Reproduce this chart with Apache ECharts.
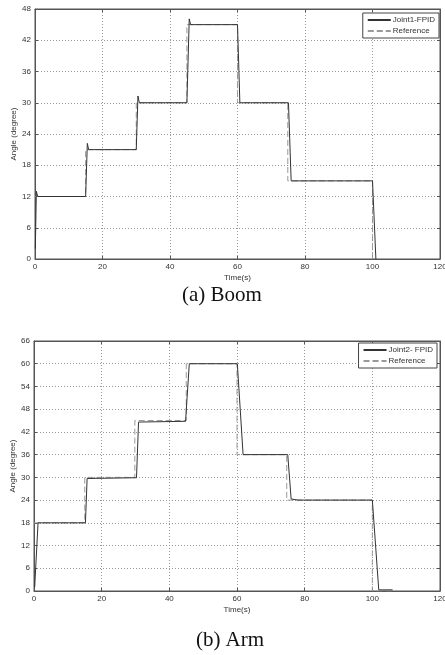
<!DOCTYPE html>
<html>
<head>
<meta charset="utf-8">
<script src="https://cdn.jsdelivr.net/npm/echarts@6/dist/echarts.min.js"></script>
<style>
  html, body { margin: 0; padding: 0; background: #fff; }
  #chart { width: 445px; height: 655px; }
</style>
</head>
<body>
<div id="chart"></div>
<script>
// (a) Boom - 关节1
const boomTime = [0.1, 0.4, 0.8, 15, 15.5, 15.9, 30, 30.5, 30.9, 45, 45.7, 46.1, 60, 60.7, 75.1, 75.9, 100, 101];
const boomAngle = [2, 13, 12, 12, 22.2, 21, 21, 31.3, 30, 30, 46.1, 45, 45, 30, 30, 15, 15, 0];
const boomRefTime = [0, 15, 15, 30, 30, 45, 45, 60, 60, 74.9, 74.9, 100, 100, 101];
const boomRefAngle = [12, 12, 21, 21, 30, 30, 45, 45, 30, 30, 15, 15, 0, 0];

// (b) Arm - 关节2
const armTime = [0.2, 1.2, 15.2, 15.7, 30.3, 30.9, 44.8, 45.9, 60.1, 61.8, 75, 76, 78, 100, 101.9, 106];
const armAngle = [1, 18, 18, 29.7, 29.9, 44.6, 44.8, 60, 60, 36, 36, 24.3, 24, 24, 0.3, 0.3];
const armRefTime = [0, 15, 15, 29.8, 29.8, 45, 45, 60, 60, 74.7, 74.7, 100, 100, 106];
const armRefAngle = [18, 18, 30, 30, 45, 45, 60, 60, 36, 36, 24, 24, 0, 0];

const xTicks = [0, 20, 40, 60, 80, 100, 120];
const boomTicks = [0, 6, 12, 18, 24, 30, 36, 42, 48];
const armTicks = [0, 6, 12, 18, 24, 30, 36, 42, 48, 54, 60, 66];

const pairs = (xs, ys) => xs.map((x, i) => [x, ys[i]]);

const font = 'Liberation Sans, Arial, sans-serif';
const labelStyle = { color: '#333', fontSize: 8, fontFamily: font };

// 主坐标轴（带网格线）
function mainX(gridIndex) {
  return {
    type: 'value', gridIndex: gridIndex,
    min: xTicks[0], max: xTicks[xTicks.length - 1], interval: 20,
    name: 'Time(s)', nameLocation: 'middle', nameGap: 15,
    nameTextStyle: labelStyle,
    axisLine: { onZero: false, lineStyle: { color: '#555' } },
    axisTick: { inside: true, length: 3, lineStyle: { color: '#555' } },
    axisLabel: Object.assign({ margin: 4 }, labelStyle),
    splitLine: { show: true, lineStyle: { type: [1, 2], color: '#999' } },
  };
}
function mainY(gridIndex, ticks) {
  return {
    type: 'value', gridIndex: gridIndex,
    min: ticks[0], max: ticks[ticks.length - 1], interval: 6,
    name: 'Angle (degree)', nameLocation: 'middle', nameGap: 17,
    nameMoveOverlap: false,
    nameTextStyle: labelStyle,
    axisLine: { onZero: false, lineStyle: { color: '#555' } },
    axisTick: { inside: true, length: 3, lineStyle: { color: '#555' } },
    axisLabel: Object.assign({ margin: 4 }, labelStyle),
    splitLine: { show: true, lineStyle: { type: [1, 2], color: '#999' } },
  };
}
// 上/右边框的刻度
function edgeX(gridIndex) {
  return {
    type: 'value', gridIndex: gridIndex, position: 'top',
    min: xTicks[0], max: xTicks[xTicks.length - 1], interval: 20,
    axisLine: { onZero: false, lineStyle: { color: '#555' } },
    axisTick: { inside: true, length: 3, lineStyle: { color: '#555' } },
    axisLabel: { show: false }, splitLine: { show: false },
  };
}
function edgeY(gridIndex, ticks) {
  return {
    type: 'value', gridIndex: gridIndex, position: 'right',
    min: ticks[0], max: ticks[ticks.length - 1], interval: 6,
    axisLine: { onZero: false, lineStyle: { color: '#555' } },
    axisTick: { inside: true, length: 3, lineStyle: { color: '#555' } },
    axisLabel: { show: false }, splitLine: { show: false },
  };
}

function solid(name, data, xi, yi) {
  return {
    name: name, type: 'line', data: data, xAxisIndex: xi, yAxisIndex: yi,
    symbol: 'none', animation: false, z: 3,
    lineStyle: { color: '#333', width: 1 },
    itemStyle: { color: '#333' },
  };
}
function dashed(name, data, xi, yi) {
  return {
    name: name, type: 'line', data: data, xAxisIndex: xi, yAxisIndex: yi,
    symbol: 'none', animation: false, z: 2,
    lineStyle: { color: '#999', width: 1, type: [6, 3] },
    itemStyle: { color: '#999' },
  };
}

function legendAt(top, right, names) {
  return {
    data: names, orient: 'vertical', top: top, right: right,
    itemWidth: 23, itemHeight: 8, itemGap: 3,
    padding: [3, 4, 3, 4],
    borderColor: '#444', borderWidth: 1, borderRadius: 0,
    backgroundColor: '#fff',
    itemStyle: { opacity: 0 },
    textStyle: { color: '#333', fontSize: 8, fontFamily: font, padding: [0, 0, 0, -3] },
    selectedMode: false,
  };
}

const captionFont = '21px "Liberation Serif", "Times New Roman", serif';

const chart = echarts.init(document.getElementById('chart'));
chart.setOption({
  backgroundColor: '#fff',
  animation: false,
  grid: [
    { left: 35, top: 9, width: 405, height: 250, show: true, borderColor: '#555', borderWidth: 1, outerBoundsMode: 'none', containLabel: false },
    { left: 34, top: 341, width: 406, height: 250, show: true, borderColor: '#555', borderWidth: 1, outerBoundsMode: 'none', containLabel: false },
  ],
  xAxis: [mainX(0), mainX(1), edgeX(0), edgeX(1)],
  yAxis: [mainY(0, boomTicks), mainY(1, armTicks), edgeY(0, boomTicks), edgeY(1, armTicks)],
  legend: [
    legendAt(13, 6, ['Joint1-FPID', 'Reference']),
    legendAt(343, 8, ['Joint2- FPID', 'Reference ']),
  ],
  graphic: [
    { type: 'text', x: 222, y: 295, style: { text: '(a) Boom', font: captionFont, fill: '#111', textAlign: 'center', textVerticalAlign: 'middle' } },
    { type: 'text', x: 230, y: 640, style: { text: '(b) Arm', font: captionFont, fill: '#111', textAlign: 'center', textVerticalAlign: 'middle' } },
  ],
  series: [
    dashed('Reference', pairs(boomRefTime, boomRefAngle), 0, 0),
    solid('Joint1-FPID', pairs(boomTime, boomAngle), 0, 0),
    dashed('Reference ', pairs(armRefTime, armRefAngle), 1, 1),
    solid('Joint2- FPID', pairs(armTime, armAngle), 1, 1),
  ],
});
</script>
</body>
</html>
